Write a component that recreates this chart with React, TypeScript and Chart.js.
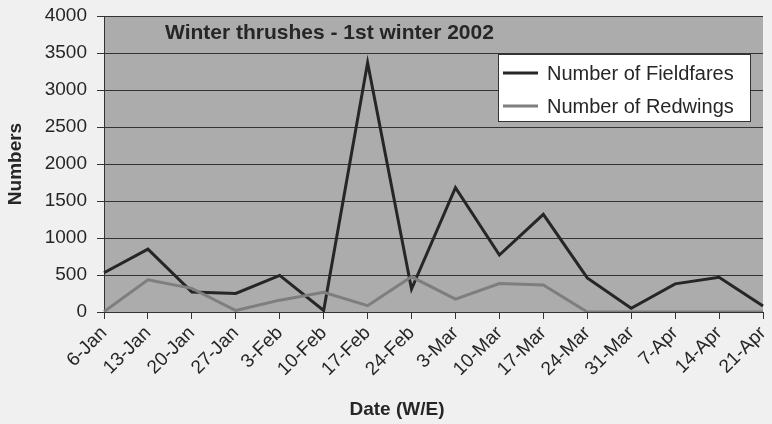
import React, { useEffect, useRef } from "react";
import { Chart, registerables } from "chart.js";

Chart.register(...registerables);

const categories = [
  "6-Jan", "13-Jan", "20-Jan", "27-Jan", "3-Feb", "10-Feb", "17-Feb", "24-Feb",
  "3-Mar", "10-Mar", "17-Mar", "24-Mar", "31-Mar", "7-Apr", "14-Apr", "21-Apr",
];
const fieldfares = [530, 850, 270, 250, 495, 20, 3370, 310, 1680, 770, 1320, 460, 50, 380, 470, 80];
const redwings = [5, 435, 320, 20, 160, 265, 85, 475, 175, 385, 365, 0, 0, 0, 0, 0];
const yTicks = [0, 500, 1000, 1500, 2000, 2500, 3000, 3500, 4000];

const chartTitle = "Winter thrushes - 1st winter 2002";
const seriesNames = ["Number of Fieldfares", "Number of Redwings"];
const seriesColors = ["#262626", "#7e7e7e"];
const xTitle = "Date (W/E)";
const yTitle = "Numbers";

const FONT = "'Liberation Sans', Arial, sans-serif";

const bgPlugin = {
  id: "bg",
  beforeDraw(chart: any) {
    const { ctx, chartArea, width, height } = chart;
    ctx.save();
    ctx.fillStyle = "#f0f0f0";
    ctx.fillRect(0, 0, width, height);
    ctx.fillStyle = "#acacac";
    ctx.fillRect(chartArea.left, chartArea.top, chartArea.right - chartArea.left, chartArea.bottom - chartArea.top);
    ctx.restore();
  },
};

const textPlugin = {
  id: "texts",
  afterDatasetsDraw(chart: any) {
    const { ctx, chartArea } = chart;
    ctx.save();
    ctx.fillStyle = "#262626";
    ctx.font = `bold 21px ${FONT}`;
    ctx.textAlign = "left";
    ctx.textBaseline = "alphabetic";
    ctx.fillText(chartTitle, chartArea.left + 61, chartArea.top + 23);

    const lx = 498, ly = 54, lw = 252, lh = 67;
    ctx.fillStyle = "#ffffff";
    ctx.fillRect(lx, ly, lw, lh);
    ctx.strokeStyle = "#333333";
    ctx.lineWidth = 1;
    ctx.strokeRect(lx + 0.5, ly + 0.5, lw, lh);
    ctx.font = `20px ${FONT}`;
    ctx.textBaseline = "middle";
    seriesNames.forEach((name, i) => {
      const y = ly + 19 + i * 33;
      ctx.strokeStyle = seriesColors[i];
      ctx.lineWidth = 3;
      ctx.beginPath();
      ctx.moveTo(lx + 5, y);
      ctx.lineTo(lx + 40, y);
      ctx.stroke();
      ctx.fillStyle = "#262626";
      ctx.fillText(name, lx + 49, y + 1);
    });

    ctx.font = `bold 19px ${FONT}`;
    ctx.textAlign = "center";
    ctx.textBaseline = "middle";
    ctx.fillStyle = "#262626";
    ctx.fillText(xTitle, 397, 410);
    ctx.restore();
  },
};

export default function App() {
  const ref = useRef<HTMLCanvasElement>(null);
  useEffect(() => {
    if (!ref.current) return;
    const chart = new Chart(ref.current, {
      type: "line",
      data: {
        labels: categories,
        datasets: [
          {
            label: seriesNames[0],
            data: fieldfares,
            borderColor: seriesColors[0],
            backgroundColor: seriesColors[0],
            borderWidth: 3,
            pointRadius: 0,
            tension: 0,
            order: 1,
          },
          {
            label: seriesNames[1],
            data: redwings,
            borderColor: seriesColors[1],
            backgroundColor: seriesColors[1],
            borderWidth: 3,
            pointRadius: 0,
            tension: 0,
            order: 0,
          },
        ],
      },
      options: {
        animation: false,
        responsive: false,
        devicePixelRatio: 1,
        layout: { padding: { top: 16, right: 9, left: 0, bottom: 0 } },
        plugins: {
          legend: { display: false },
          title: { display: false },
          tooltip: { enabled: false },
        },
        scales: {
          x: {
            type: "category",
            offset: false,
            grid: {
              drawOnChartArea: false,
              drawTicks: true,
              tickLength: 7,
              color: "#333333",
            },
            border: { display: true, color: "#333333", width: 1 },
            ticks: {
              autoSkip: false,
              maxRotation: 45,
              minRotation: 45,
              color: "#262626",
              font: { family: FONT, size: 19 },
              padding: 3,
            },
            afterFit(scale: any) {
              scale.height = 112;
              scale.paddingLeft = 0;
              scale.paddingRight = 0;
            },
          },
          y: {
            min: 0,
            max: 4000,
            afterBuildTicks(scale: any) {
              scale.ticks = yTicks.map((v) => ({ value: v }));
            },
            grid: {
              color: "#333333",
              lineWidth: 1,
              drawTicks: true,
              tickLength: 7,
            },
            border: { display: true, color: "#333333", width: 1 },
            ticks: {
              color: "#262626",
              font: { family: FONT, size: 19 },
              padding: 10,
              callback: (v: any) => String(v),
            },
            title: {
              display: true,
              text: yTitle,
              color: "#262626",
              font: { family: FONT, size: 19, weight: "bold" },
              padding: { top: 4, bottom: 4 },
            },
            afterFit(scale: any) {
              scale.width = 104;
              scale.paddingTop = 0;
              scale.paddingBottom = 0;
            },
          },
        },
      },
      plugins: [bgPlugin, textPlugin],
    } as any);
    return () => chart.destroy();
  }, []);
  return (
    <div style={{ position: "fixed", left: 0, top: 0, width: 772, height: 424 }}>
      <canvas ref={ref} width={772} height={424} style={{ width: 772, height: 424, display: "block" }} />
    </div>
  );
}
